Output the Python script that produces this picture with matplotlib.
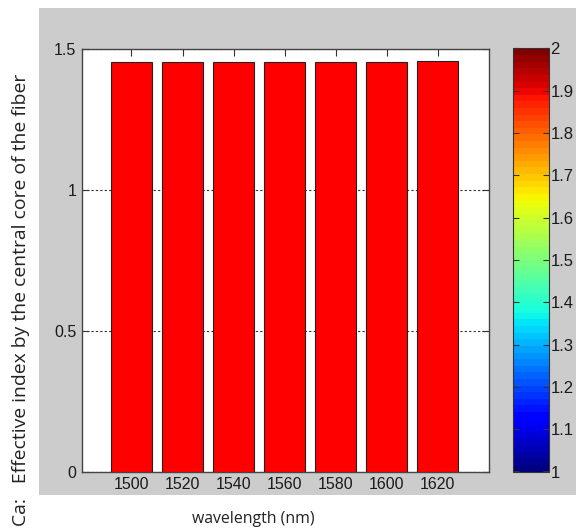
import matplotlib
matplotlib.use("Agg")
import matplotlib.pyplot as plt
from matplotlib.patches import Rectangle
from matplotlib.colors import Normalize
from matplotlib.cm import ScalarMappable
import numpy as np

wavelengths = [1500, 1520, 1540, 1560, 1580, 1600, 1620]
neff = [1.453, 1.453, 1.453, 1.453, 1.453, 1.453, 1.458]
yticks = [0, 0.5, 1, 1.5]
ytick_labels = ["0", "0.5", "1", "1.5"]
cbar_ticks = [1.0, 1.1, 1.2, 1.3, 1.4, 1.5, 1.6, 1.7, 1.8, 1.9, 2.0]
cbar_labels = ["1", "1.1", "1.2", "1.3", "1.4", "1.5", "1.6", "1.7", "1.8", "1.9", "2"]
ylabel_text = "Ca:   Effective index by the central core of the fiber"
xlabel_text = "wavelength (nm)"

W, H = 576, 530
fig = plt.figure(figsize=(W / 100, H / 100), dpi=100, facecolor="white")

# gray MATLAB-like figure background panel
bg = Rectangle((39 / W, 1 - 495 / H), (W - 39) / W, (495 - 8) / H,
               transform=fig.transFigure, facecolor="#cccccc",
               edgecolor="none", zorder=-10)
fig.add_artist(bg)

tick_font = dict(family=["Liberation Sans Narrow", "Liberation Sans", "DejaVu Sans"], size=11.5,
                 color="#1a1a1a")

ax = fig.add_axes([81.7 / W, 1 - 471.5 / H, (489 - 81.7) / W, (471.5 - 49) / H])
ax.set_facecolor("white")
ax.bar(wavelengths, neff, width=16, color="#ff0000", edgecolor="#222222", linewidth=0.8, zorder=3)
ax.set_xlim(1480.5, 1640)
ax.set_ylim(0, 1.5)
ax.set_xticks(wavelengths)
ax.set_xticklabels([str(w) for w in wavelengths], **tick_font)
ax.set_yticks(yticks)
ax.set_yticklabels(ytick_labels, **tick_font)
ax.yaxis.grid(True, linestyle=(0, (2, 2)), color="#333333", linewidth=0.8, zorder=0)
ax.set_axisbelow(True)
ax.tick_params(direction="in", top=True, right=True, length=5, width=0.8, color="#333333", pad=4)
for s in ax.spines.values():
    s.set_color("#444444")
    s.set_linewidth(1.0)

jet64 = plt.get_cmap("jet", 64)
cax = fig.add_axes([513 / W, 1 - 471.5 / H, 36 / W, (471.5 - 48.5) / H])
cax.set_facecolor(jet64(0))
sm = ScalarMappable(norm=Normalize(1, 2), cmap=jet64)
cb = fig.colorbar(sm, cax=cax)
cb.set_ticks(cbar_ticks)
cb.set_ticklabels(cbar_labels)
for lbl in cax.get_yticklabels():
    lbl.set_fontfamily(tick_font["family"])
    lbl.set_fontsize(12)
    lbl.set_color("#1a1a1a")
cax.tick_params(direction="in", left=True, right=True, length=4, width=0.8, color="#333333", pad=1)
cb.outline.set_edgecolor("#333333")
cb.outline.set_linewidth(0.8)

label_font = ["Open Sans", "DejaVu Sans"]
ylab = fig.text(21 / W, 1 - 300 / H, ylabel_text,
                rotation=90, ha="center", va="center", family=label_font, size=11, color="#222222")
xlab = fig.text(253 / W, 1 - 519 / H, xlabel_text, ha="center", va="center",
                family=label_font, size=11, color="#222222")

# fit label lengths to the reference extents
fig.canvas.draw()
r = fig.canvas.get_renderer()
for t, target, attr in [(ylab, 455, "height"), (xlab, 123, "width")]:
    ext = getattr(t.get_window_extent(r), attr)
    t.set_fontsize(t.get_fontsize() * target / ext)

fig.savefig("out.png", dpi=100, facecolor="white")
